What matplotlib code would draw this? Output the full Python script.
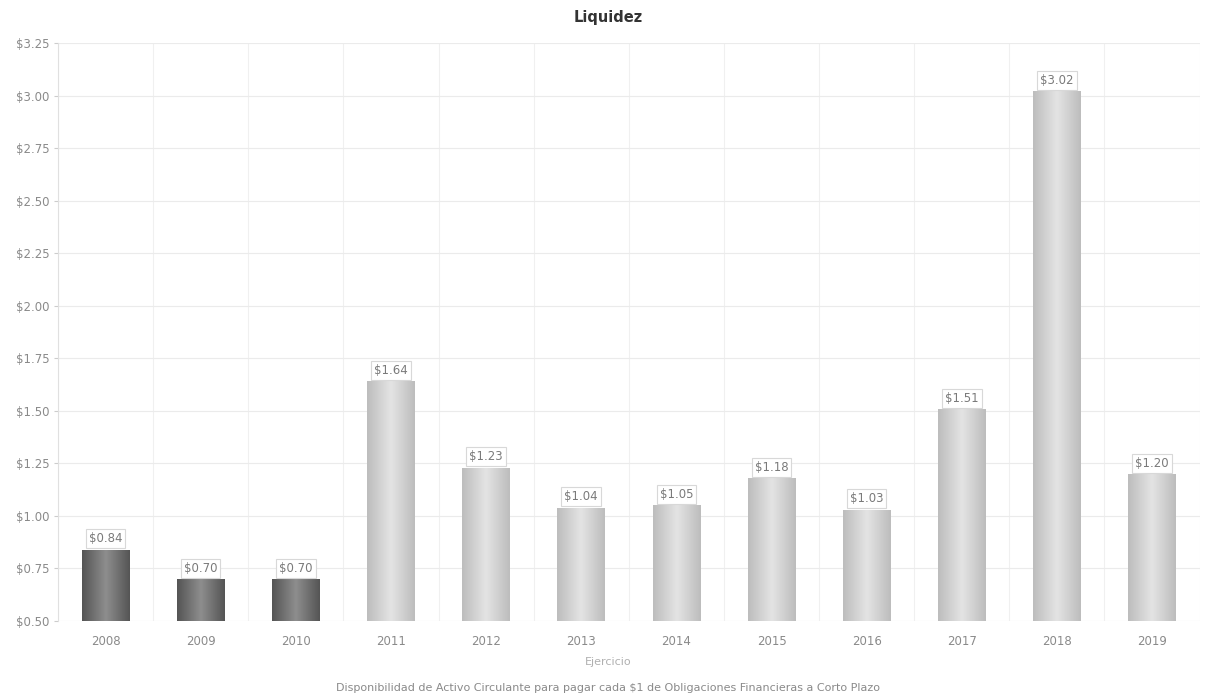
import numpy as np
import matplotlib
matplotlib.use("Agg")
import matplotlib.pyplot as plt
from matplotlib.ticker import FuncFormatter, MultipleLocator
from matplotlib.colors import LinearSegmentedColormap

years = ["2008", "2009", "2010", "2011", "2012", "2013", "2014", "2015", "2016", "2017", "2018", "2019"]
liquidez = [0.84, 0.70, 0.70, 1.64, 1.23, 1.04, 1.05, 1.18, 1.03, 1.51, 3.02, 1.20]
dark_years = ["2008", "2009", "2010"]

title = "Liquidez"
x_label = "Ejercicio"
subtitle = "Disponibilidad de Activo Circulante para pagar cada \\$1 de Obligaciones Financieras a Corto Plazo"

fig = plt.figure(figsize=(12.17, 6.98), dpi=100)
ax = fig.add_axes([0.0477, 0.1103, 0.938, 0.8281])

base = 0.5
x = np.arange(len(years))
heights = [v - base for v in liquidez]
bars = ax.bar(x, heights, bottom=base, width=0.5, color="none", zorder=3)

dark_cmap = LinearSegmentedColormap.from_list("dark", ["#555555", "#8e8e8e", "#555555"])
light_cmap = LinearSegmentedColormap.from_list("light", ["#bdbdbd", "#e4e4e4", "#bdbdbd"])
grad = np.linspace(0, 1, 64).reshape(1, -1)

for year, bar, val in zip(years, bars, liquidez):
    cmap = dark_cmap if year in dark_years else light_cmap
    x0 = bar.get_x()
    w = bar.get_width()
    im = ax.imshow(grad, cmap=cmap, aspect="auto", extent=(x0, x0 + w, base, val),
                   zorder=3, interpolation="bicubic")
    im.set_clip_path(bar)
    ax.annotate("\\$%.2f" % val, (bar.get_x() + w / 2, val), xytext=(0, 3),
                textcoords="offset points", ha="center", va="bottom",
                fontsize=8.5, color="#7a7a7a", zorder=4,
                bbox=dict(boxstyle="square,pad=0.25", fc="white", ec="#d8d8d8", lw=0.8))

ax.set_xlim(-0.5, len(years) - 0.6)
ax.set_ylim(0.5, 3.25)
ax.yaxis.set_major_locator(MultipleLocator(0.25))
ax.yaxis.set_major_formatter(FuncFormatter(lambda v, p: "\\$%.2f" % v))
ax.set_xticks(x)
ax.set_xticklabels(years)
ax.set_xticks(np.arange(len(years) + 1) - 0.5, minor=True)

ax.grid(True, axis="y", which="major", color="#ebebeb", lw=0.8, zorder=0)
ax.grid(True, axis="x", which="minor", color="#f0f0f0", lw=0.8, zorder=0)
ax.tick_params(axis="x", which="both", length=0, colors="#8a8a8a", labelsize=8.5, pad=10)
ax.tick_params(axis="y", length=3, color="#cccccc", colors="#8a8a8a", labelsize=8.5, pad=3)
for s in ax.spines.values():
    s.set_visible(False)
ax.spines["left"].set_visible(True)
ax.spines["left"].set_color("#e0e0e0")

fig.text(0.5, 0.985, title, ha="center", va="top", fontsize=10.5, fontweight="bold", color="#333333")
fig.text(0.5, 0.052, x_label, ha="center", va="center", fontsize=8, color="#b0b0b0")
fig.text(0.5, 0.015, subtitle, ha="center", va="center", fontsize=8, color="#8a8a8a")

fig.savefig("out.png", dpi=100, facecolor="white")
